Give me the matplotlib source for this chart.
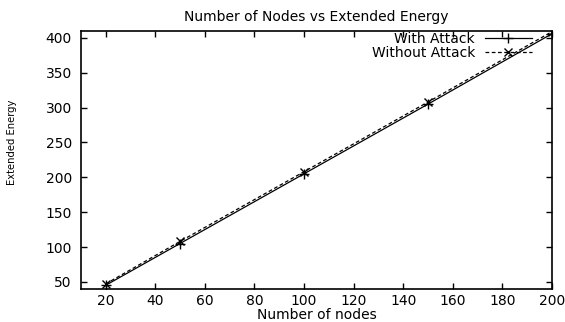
import matplotlib
matplotlib.use('Agg')
import matplotlib.pyplot as plt

# data
nodes = [20, 50, 100, 150, 200]
with_attack = [45, 105, 205, 305, 406]
without_attack = [47, 108, 208, 308, 409]

plt.rcParams['font.family'] = ['DejaVu Sans']

fig = plt.figure(figsize=(5.65, 3.22), dpi=100)
ax = fig.add_axes([0.143, 0.103, 0.834, 0.801])

ax.plot(nodes, with_attack, color='black', lw=0.9, ls='-', marker='+', ms=7, mew=1, label='With Attack')
ax.plot(nodes, without_attack, color='black', lw=0.9, ls=(0, (3, 2)), marker='x', ms=6, mew=1, label='Without Attack')

ax.set_xlim(10, 200)
ax.set_ylim(40, 410)
ax.set_xticks(range(20, 201, 20))
ax.set_yticks(range(50, 401, 50))
ax.tick_params(direction='in', top=True, right=True, length=4, width=1, labelsize=10)
ax.tick_params(axis='x', pad=3.6)
ax.tick_params(axis='y', pad=6.5)
for s in ax.spines.values():
    s.set_linewidth(1.2)

ax.set_title('Number of Nodes vs Extended Energy', fontsize=10, pad=7)
ax.set_xlabel('Number of nodes', fontsize=10, labelpad=0)
ax.set_ylabel('Extended Energy', fontsize=8, family=['Liberation Sans Narrow', 'DejaVu Sans'],
              fontstretch='condensed')
ax.yaxis.set_label_coords(-0.135, 0.57)

leg = ax.legend(loc='upper right', bbox_to_anchor=(0.9575, 0.995), frameon=False,
                markerfirst=False, fontsize=10, numpoints=1, handlelength=3.4,
                borderpad=0, labelspacing=-0.05, handletextpad=0.7, borderaxespad=0)

fig.savefig('out.png', dpi=100)
